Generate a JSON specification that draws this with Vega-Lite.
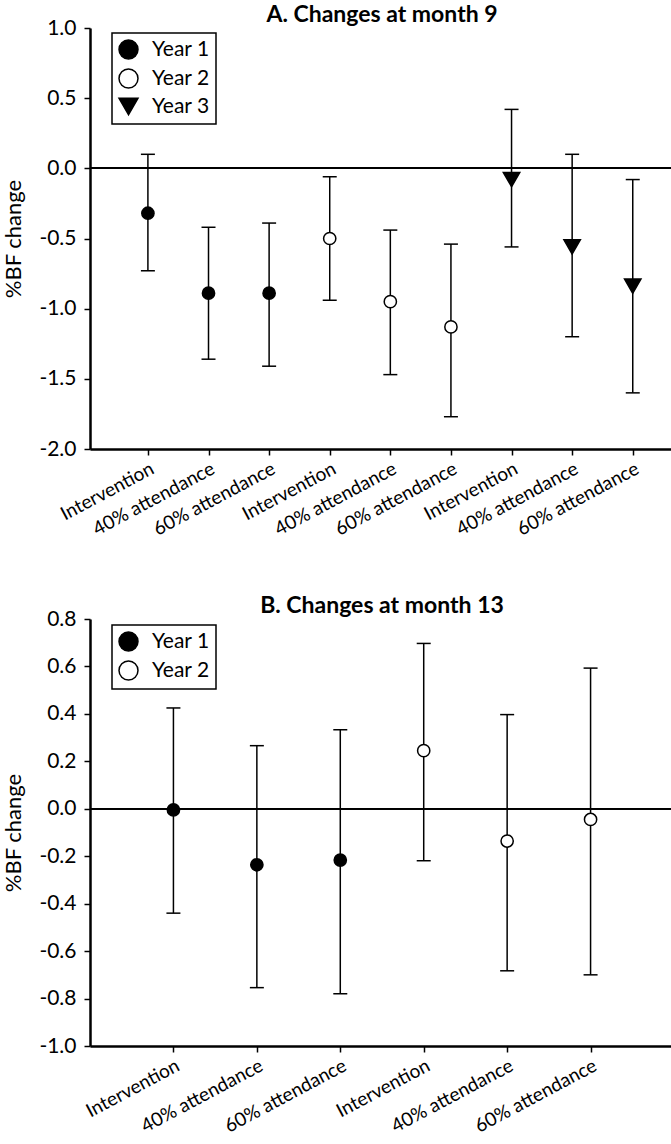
{
  "$schema": "https://vega.github.io/schema/vega-lite/v6.json",
  "padding": {"left": 2, "top": 4, "right": 0, "bottom": 0},
  "background": "white",
  "config": {
    "font": "Lato",
    "view": {"stroke": null},
    "axis": {"grid": false, "domainColor": "black", "domainWidth": 2.5, "tickColor": "black", "tickWidth": 1.5, "tickSize": 6, "labelColor": "black", "titleColor": "black", "labelFont": "Lato", "titleFont": "Lato"},
    "axisY": {"labelFontSize": 21, "titleFontSize": 22, "titleFontWeight": "normal", "labelPadding": 8, "titlePadding": 13},
    "axisX": {"labelFontSize": 19, "labelAngle": -28, "labelAlign": "right", "labelBaseline": "top", "labelPadding": 4, "labelOverlap": false, "title": null},
    "title": {"font": "Lato", "fontSize": 23, "fontWeight": "bold", "color": "black", "anchor": "middle", "offset": -10},
    "legend": {"labelFont": "Lato", "labelFontSize": 21, "labelColor": "black", "symbolSize": 360, "strokeColor": "black", "strokeWidth": 1.5, "padding": 6, "rowPadding": 4, "labelOffset": 13, "symbolStrokeWidth": 1.5, "symbolStrokeColor": "black"}
  },
  "datasets": {
    "a": [
      {"cat": "1|Intervention", "year": "Year 1", "est": -0.32, "lo": -0.73, "hi": 0.10},
      {"cat": "1|40% attendance", "year": "Year 1", "est": -0.89, "lo": -1.36, "hi": -0.42},
      {"cat": "1|60% attendance", "year": "Year 1", "est": -0.89, "lo": -1.41, "hi": -0.39},
      {"cat": "2|Intervention", "year": "Year 2", "est": -0.50, "lo": -0.94, "hi": -0.06},
      {"cat": "2|40% attendance", "year": "Year 2", "est": -0.95, "lo": -1.47, "hi": -0.44},
      {"cat": "2|60% attendance", "year": "Year 2", "est": -1.13, "lo": -1.77, "hi": -0.54},
      {"cat": "3|Intervention", "year": "Year 3", "est": -0.08, "lo": -0.56, "hi": 0.42},
      {"cat": "3|40% attendance", "year": "Year 3", "est": -0.56, "lo": -1.20, "hi": 0.10},
      {"cat": "3|60% attendance", "year": "Year 3", "est": -0.84, "lo": -1.60, "hi": -0.08}
    ],
    "b": [
      {"cat": "1|Intervention", "year": "Year 1", "est": -0.005, "lo": -0.44, "hi": 0.425},
      {"cat": "1|40% attendance", "year": "Year 1", "est": -0.236, "lo": -0.754, "hi": 0.266},
      {"cat": "1|60% attendance", "year": "Year 1", "est": -0.216, "lo": -0.78, "hi": 0.333},
      {"cat": "2|Intervention", "year": "Year 2", "est": 0.245, "lo": -0.219, "hi": 0.697},
      {"cat": "2|40% attendance", "year": "Year 2", "est": -0.136, "lo": -0.683, "hi": 0.397},
      {"cat": "2|60% attendance", "year": "Year 2", "est": -0.045, "lo": -0.70, "hi": 0.593}
    ]
  },
  "spacing": 56,
  "resolve": {
    "scale": {"x": "independent", "y": "independent", "shape": "independent", "fill": "independent", "stroke": "independent"},
    "legend": {"shape": "independent", "fill": "independent", "stroke": "independent"}
  },
  "vconcat": [
    {
      "title": "A. Changes at month 9",
      "width": 584,
      "height": 421,
      "data": {"name": "a"},
      "encoding": {
        "x": {"field": "cat", "type": "nominal", "sort": null, "scale": {"type": "point", "padding": 0.818, "align": 0.584}, "axis": {"labelExpr": "split(datum.label, '|')[1]"}}
      },
      "layer": [
        {
          "mark": {"type": "rule", "color": "black", "strokeWidth": 1.5},
          "encoding": {"x": null, "y": {"datum": 0, "type": "quantitative", "scale": {"domain": [-2, 1], "nice": false, "zero": false}, "axis": {"title": "%BF change", "values": [-2, -1.5, -1, -0.5, 0, 0.5, 1], "labelExpr": "replace(format(datum.value, '.1f'), '\u2212', '-')"}}}
        },
        {
          "mark": {"type": "rule", "color": "black", "strokeWidth": 1.5},
          "encoding": {"y": {"field": "lo", "type": "quantitative", "scale": {"domain": [-2, 1], "nice": false, "zero": false}, "title": "%BF change"}, "y2": {"field": "hi"}}
        },
        {
          "mark": {"type": "tick", "color": "black", "size": 14, "thickness": 1.5, "opacity": 1},
          "encoding": {"y": {"field": "lo", "type": "quantitative", "title": "%BF change"}}
        },
        {
          "mark": {"type": "tick", "color": "black", "size": 14, "thickness": 1.5, "opacity": 1},
          "encoding": {"y": {"field": "hi", "type": "quantitative", "title": "%BF change"}}
        },
        {
          "transform": [{"filter": "datum.year != 'Year 3'"}],
          "mark": {"type": "point", "filled": true, "size": 150, "strokeWidth": 1.5, "opacity": 1},
          "encoding": {
            "y": {"field": "est", "type": "quantitative", "title": "%BF change"},
            "shape": {"field": "year", "type": "nominal", "scale": {"domain": ["Year 1", "Year 2", "Year 3"], "range": ["circle", "circle", "triangle-down"]}, "legend": {"title": null, "orient": "none", "legendX": 22, "legendY": 5}},
            "fill": {"field": "year", "type": "nominal", "scale": {"domain": ["Year 1", "Year 2", "Year 3"], "range": ["black", "white", "black"]}, "legend": {"title": null, "orient": "none", "legendX": 22, "legendY": 5}},
            "stroke": {"field": "year", "type": "nominal", "scale": {"domain": ["Year 1", "Year 2", "Year 3"], "range": ["black", "black", "black"]}, "legend": {"title": null, "orient": "none", "legendX": 22, "legendY": 5}}
          }
        },
        {
          "transform": [{"filter": "datum.year == 'Year 3'"}],
          "mark": {"type": "point", "filled": true, "size": 270, "strokeWidth": 1.5, "opacity": 1},
          "encoding": {
            "y": {"field": "est", "type": "quantitative", "title": "%BF change"},
            "shape": {"field": "year", "type": "nominal", "scale": {"domain": ["Year 1", "Year 2", "Year 3"], "range": ["circle", "circle", "triangle-down"]}, "legend": {"title": null, "orient": "none", "legendX": 22, "legendY": 5}},
            "fill": {"field": "year", "type": "nominal", "scale": {"domain": ["Year 1", "Year 2", "Year 3"], "range": ["black", "white", "black"]}, "legend": {"title": null, "orient": "none", "legendX": 22, "legendY": 5}},
            "stroke": {"field": "year", "type": "nominal", "scale": {"domain": ["Year 1", "Year 2", "Year 3"], "range": ["black", "black", "black"]}, "legend": {"title": null, "orient": "none", "legendX": 22, "legendY": 5}}
          }
        }
      ]
    },
    {
      "title": "B. Changes at month 13",
      "width": 584,
      "height": 427,
      "data": {"name": "b"},
      "encoding": {
        "x": {"field": "cat", "type": "nominal", "sort": null, "scale": {"type": "point", "padding": 1}, "axis": {"labelExpr": "split(datum.label, '|')[1]"}}
      },
      "layer": [
        {
          "mark": {"type": "rule", "color": "black", "strokeWidth": 1.5},
          "encoding": {"x": null, "y": {"datum": 0, "type": "quantitative", "scale": {"domain": [-1, 0.8], "nice": false, "zero": false}, "axis": {"title": "%BF change", "values": [-1, -0.8, -0.6, -0.4, -0.2, 0, 0.2, 0.4, 0.6, 0.8], "labelExpr": "replace(format(datum.value, '.1f'), '\u2212', '-')"}}}
        },
        {
          "mark": {"type": "rule", "color": "black", "strokeWidth": 1.5},
          "encoding": {"y": {"field": "lo", "type": "quantitative", "scale": {"domain": [-1, 0.8], "nice": false, "zero": false}, "title": "%BF change"}, "y2": {"field": "hi"}}
        },
        {
          "mark": {"type": "tick", "color": "black", "size": 14, "thickness": 1.5, "opacity": 1},
          "encoding": {"y": {"field": "lo", "type": "quantitative", "title": "%BF change"}}
        },
        {
          "mark": {"type": "tick", "color": "black", "size": 14, "thickness": 1.5, "opacity": 1},
          "encoding": {"y": {"field": "hi", "type": "quantitative", "title": "%BF change"}}
        },
        {
          "mark": {"type": "point", "filled": true, "size": 150, "strokeWidth": 1.5, "opacity": 1},
          "encoding": {
            "y": {"field": "est", "type": "quantitative", "title": "%BF change"},
            "shape": {"field": "year", "type": "nominal", "scale": {"domain": ["Year 1", "Year 2"], "range": ["circle", "circle"]}, "legend": {"title": null, "orient": "none", "legendX": 22, "legendY": 6}},
            "fill": {"field": "year", "type": "nominal", "scale": {"domain": ["Year 1", "Year 2"], "range": ["black", "white"]}, "legend": {"title": null, "orient": "none", "legendX": 22, "legendY": 6}},
            "stroke": {"field": "year", "type": "nominal", "scale": {"domain": ["Year 1", "Year 2"], "range": ["black", "black"]}, "legend": {"title": null, "orient": "none", "legendX": 22, "legendY": 6}}
          }
        }
      ]
    }
  ]
}
